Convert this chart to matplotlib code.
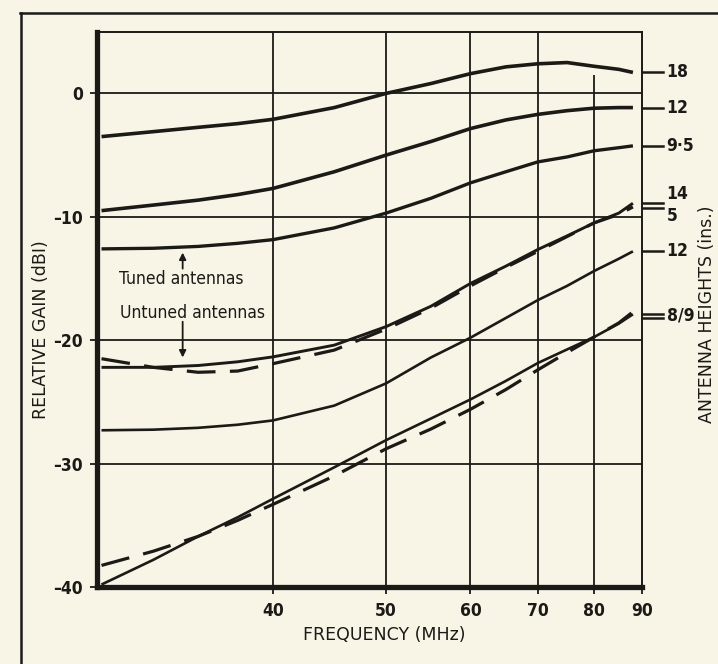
#plot.py

#COMMENT: Imports.

import numpy as np
import matplotlib as mpl
import matplotlib.pyplot as plt
from matplotlib.lines import Line2D
from matplotlib.transforms import blended_transform_factory

#COMMENT: Data (frequency in MHz, gain in dBI).

freq = [30, 32.5, 35, 37.5, 40, 45, 50, 55, 60, 65, 70, 75, 80, 85, 88]

tuned_18 = [-3.5, -3.1, -2.75, -2.45, -2.1, -1.15, 0.0, 0.8, 1.6, 2.15, 2.4, 2.5, 2.2, 1.95, 1.7]
tuned_12 = [-9.5, -9.05, -8.65, -8.2, -7.7, -6.35, -5.0, -3.9, -2.85, -2.15, -1.7, -1.4, -1.2, -1.15, -1.15]
tuned_9_5 = [-12.6, -12.55, -12.4, -12.15, -11.85, -10.9, -9.7, -8.5, -7.25, -6.35, -5.55, -5.15, -4.65, -4.4, -4.25]

untuned_14 = [-22.2, -22.2, -22.05, -21.75, -21.35, -20.4, -18.9, -17.25, -15.4, -14.0, -12.65, -11.55, -10.5, -9.7, -8.9]
untuned_5 = [-21.5, -22.2, -22.6, -22.5, -21.9, -20.8, -19.1, -17.4, -15.6, -14.1, -12.8, -11.6, -10.5, -9.8, -9.2]
untuned_12 = [-27.3, -27.25, -27.1, -26.85, -26.5, -25.3, -23.5, -21.4, -19.8, -18.2, -16.75, -15.6, -14.4, -13.4, -12.8]
untuned_8 = [-39.8, -37.8, -35.9, -34.35, -32.85, -30.3, -28.1, -26.35, -24.8, -23.3, -21.85, -20.75, -19.75, -18.65, -17.9]
untuned_9 = [-38.25, -37.1, -35.9, -34.6, -33.3, -31.0, -28.8, -27.2, -25.6, -24.0, -22.4, -21.0, -19.75, -18.6, -17.7]

x_ticks = [40, 50, 60, 70, 80, 90]
y_ticks = [0, -10, -20, -30, -40]

height_labels = ['18', '12', '9·5', '14', '5', '12', '8/9']
height_label_y = [1.7, -1.15, -4.25, -8.15, -9.9, -12.8, -18.0]
height_tick_y = [1.7, -1.15, -4.25, -8.85, -9.3, -12.8, -17.85, -18.2]

#COMMENT: Style.

ink = '#1c1a17'
paper = '#f8f5e6'

mpl.rc('font', **{'family': 'DejaVu Sans', 'size': 12.5, 'stretch': 'condensed'})

fig = plt.figure(figsize=(7.18, 6.64), dpi=100, facecolor=paper)
ax = fig.add_axes([97 / 718, 1 - 587 / 664, 545 / 718, 555.3 / 664], facecolor=paper)

#COMMENT: Frequency axis is compressed like the original: position ~ ln(f - 15).

ax.set_xscale('function', functions=(lambda f: np.log(np.clip(f - 15, 1e-6, None)), lambda u: np.exp(u) + 15))
ax.set_xlim(29.8, 90)
ax.set_ylim(-40, 5)

#COMMENT: Grid (the 80 MHz line stops under the top curve).

for f in [40, 50, 60, 70]:
    ax.vlines(f, -40, 5, color=ink, lw=1.3, zorder=1)
ax.vlines(80, -40, 1.5, color=ink, lw=1.3, zorder=1)
for g in [0, -10, -20, -30]:
    ax.hlines(g, 29.8, 90, color=ink, lw=1.3, zorder=1)

#COMMENT: Curves.

ax.plot(freq, tuned_18, color=ink, lw=2.6, solid_capstyle='butt', solid_joinstyle='round')
ax.plot(freq, tuned_12, color=ink, lw=2.6, solid_capstyle='butt', solid_joinstyle='round')
ax.plot(freq, tuned_9_5, color=ink, lw=2.4, solid_capstyle='butt', solid_joinstyle='round')

ax.plot(freq, untuned_14, color=ink, lw=2.1, solid_capstyle='butt', solid_joinstyle='round')
ax.plot(freq, untuned_5, color=ink, lw=2.3, dashes=(9, 4.5))
ax.plot(freq, untuned_12, color=ink, lw=1.9, solid_capstyle='butt', solid_joinstyle='round')
ax.plot(freq, untuned_8, color=ink, lw=1.9, solid_capstyle='butt', solid_joinstyle='round')
ax.plot(freq, untuned_9, color=ink, lw=2.3, dashes=(9, 4.5))

#COMMENT: Annotations.

ax.text(30.8, -15.0, 'Tuned antennas', color=ink, va='center', ha='left', fontsize=12.5)
ax.text(30.85, -17.8, 'Untuned antennas', color=ink, va='center', ha='left', fontsize=12.5)
ax.annotate('', xy=(34.1, -12.9), xytext=(34.1, -14.2),
            arrowprops=dict(arrowstyle='-|>', color=ink, lw=1.3, mutation_scale=10, shrinkA=0, shrinkB=0))
ax.annotate('', xy=(34.1, -21.4), xytext=(34.1, -18.5),
            arrowprops=dict(arrowstyle='-|>', color=ink, lw=1.3, mutation_scale=10, shrinkA=0, shrinkB=0))

#COMMENT: Antenna height labels on the right.

trans = blended_transform_factory(ax.transAxes, ax.transData)
for y in height_tick_y:
    ax.add_line(Line2D([1.0, 1.038], [y, y], transform=trans, color=ink, lw=1.8, clip_on=False))
for label, y in zip(height_labels, height_label_y):
    ax.text(1.045, y, label, transform=trans, color=ink, va='center', ha='left',
            fontsize=12.5, fontweight='bold')

#COMMENT: Axes, ticks and labels.

ax.set_xticks(x_ticks)
ax.set_xticklabels([str(t) for t in x_ticks])
ax.set_yticks(y_ticks)
ax.set_yticklabels([str(t).replace('-', '\u2013') for t in y_ticks])
ax.minorticks_off()
ax.tick_params(axis='both', direction='out', length=5, width=1.3, color=ink, labelcolor=ink, labelsize=12.5)
ax.tick_params(axis='x', pad=6)
ax.tick_params(axis='y', pad=5)
for lab in ax.get_xticklabels() + ax.get_yticklabels():
    lab.set_fontweight('bold')

for side, w in [('left', 3.8), ('bottom', 3.8), ('top', 1.4), ('right', 1.4)]:
    ax.spines[side].set_linewidth(w)
    ax.spines[side].set_color(ink)

fig.text(384 / 718, 1 - 635 / 664, 'FREQUENCY (MHz)', ha='center', va='center', color=ink,
         fontsize=12.5, fontstretch='normal')
fig.text(41 / 718, 1 - 330 / 664, 'RELATIVE GAIN (dBI)', ha='center', va='center', rotation=90,
         color=ink, fontsize=12.5, fontstretch='normal')
fig.text(707 / 718, 1 - 314 / 664, 'ANTENNA HEIGHTS (ins.)', ha='center', va='center', rotation=90,
         color=ink, fontsize=12.5, fontstretch='normal')

#COMMENT: Outer frame of the printed figure.

fig.add_artist(Line2D([20 / 718, 1.0], [1 - 13 / 664, 1 - 13 / 664], transform=fig.transFigure, color=ink, lw=1.8))
fig.add_artist(Line2D([21 / 718, 21 / 718], [0.0, 1 - 13 / 664], transform=fig.transFigure, color=ink, lw=1.8))

plt.savefig('out.png', dpi=100, facecolor=paper)
plt.close()
